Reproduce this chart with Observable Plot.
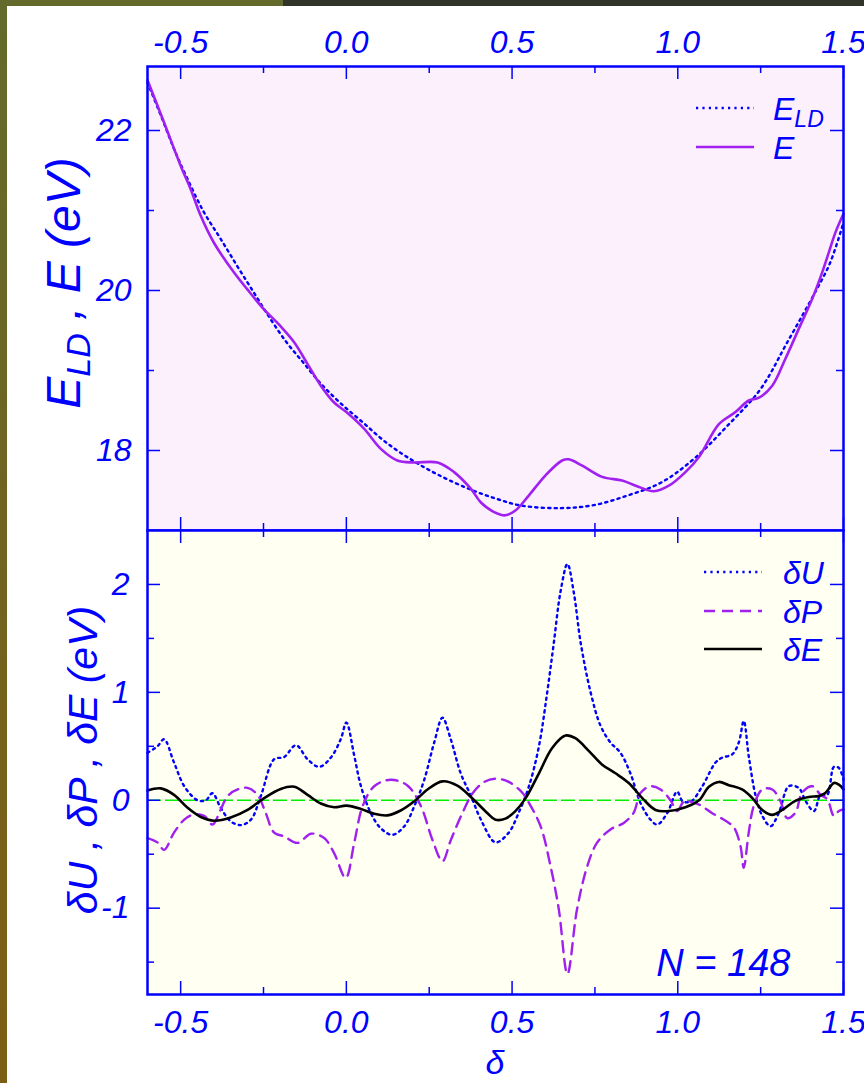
<!DOCTYPE html>
<html><head><meta charset="utf-8">
<script src="https://cdn.jsdelivr.net/npm/d3@7"></script>
<script src="https://cdn.jsdelivr.net/npm/@observablehq/plot@0.6"></script>
<style>
html,body{margin:0;padding:0;background:#fff;width:864px;height:1083px;overflow:hidden;}
#wrap{position:relative;width:864px;height:1083px;background:#fff;}
#barL{position:absolute;left:0;top:0;width:283px;height:6px;background:#636a2b;}
#barR{position:absolute;left:283px;top:0;width:581px;height:6px;background:#313428;}
#strip{position:absolute;left:0;top:0;width:7px;height:1083px;background:linear-gradient(#636a2b,#7d5e14);}
#topPanel{position:absolute;left:0;top:0;}
#botPanel{position:absolute;left:0;top:530px;}
svg{overflow:visible;}
</style></head><body>
<div id="wrap"><div id="topPanel"></div><div id="botPanel"></div><div id="barL"></div><div id="barR"></div><div id="strip"></div></div>
<script>
// ---------- data ----------
const xTicksMajor = [-0.5, 0.0, 0.5, 1.0, 1.5];
const xTicksMinor = [-0.25, 0.25, 0.75, 1.25];
const yTopMajor = [18, 20, 22];
const yTopMinor = [19, 21];
const yBotMajor = [-1, 0, 1, 2];
const yBotMinor = [-1.5, -0.5, 0.5, 1.5];

const xELD = [-0.6, -0.56, -0.52, -0.48, -0.43, -0.38, -0.33, -0.28, -0.23, -0.18, -0.13, -0.08, -0.02, 0.05, 0.12, 0.2, 0.28, 0.37, 0.45, 0.53, 0.65, 0.75, 0.85, 0.95, 1.05, 1.15, 1.25, 1.33, 1.42, 1.46, 1.5];
const yELD = [22.6, 22.19, 21.77, 21.40, 20.98, 20.65, 20.31, 19.98, 19.65, 19.35, 19.10, 18.85, 18.60, 18.35, 18.10, 17.875, 17.69, 17.52, 17.40, 17.31, 17.28, 17.32, 17.44, 17.60, 17.90, 18.31, 18.77, 19.35, 20.02, 20.35, 20.85];

const xE = [-0.6, -0.55, -0.5, -0.47, -0.44, -0.4, -0.34, -0.3, -0.25, -0.2, -0.157, -0.117, -0.077, -0.037, 0.0, 0.054, 0.104, 0.154, 0.205, 0.275, 0.325, 0.376, 0.406, 0.446, 0.48, 0.51, 0.551, 0.601, 0.651, 0.671, 0.712, 0.772, 0.832, 0.873, 0.928, 0.973, 1.023, 1.064, 1.124, 1.174, 1.214, 1.245, 1.285, 1.325, 1.365, 1.406, 1.436, 1.456, 1.476, 1.5];
const yE = [22.63, 22.10, 21.56, 21.27, 20.94, 20.60, 20.23, 20.02, 19.77, 19.56, 19.35, 19.08, 18.81, 18.60, 18.48, 18.27, 18.02, 17.875, 17.85, 17.85, 17.73, 17.52, 17.35, 17.23, 17.19, 17.25, 17.44, 17.69, 17.875, 17.89, 17.81, 17.67, 17.625, 17.56, 17.49, 17.56, 17.73, 17.92, 18.33, 18.48, 18.625, 18.66, 18.81, 19.15, 19.52, 19.90, 20.23, 20.48, 20.73, 20.96];

const xdE = [-0.6, -0.56, -0.52, -0.479, -0.439, -0.399, -0.349, -0.298, -0.248, -0.198, -0.157, -0.117, -0.077, -0.037, 0.0, 0.044, 0.084, 0.124, 0.164, 0.205, 0.245, 0.29, 0.335, 0.386, 0.426, 0.45, 0.48, 0.51, 0.541, 0.581, 0.621, 0.661, 0.691, 0.732, 0.772, 0.812, 0.852, 0.893, 0.933, 0.973, 1.023, 1.064, 1.094, 1.124, 1.154, 1.194, 1.225, 1.255, 1.285, 1.315, 1.355, 1.395, 1.426, 1.446, 1.471, 1.486, 1.5];
const ydE = [0.09, 0.11, 0.05, -0.07, -0.155, -0.19, -0.16, -0.09, 0.02, 0.105, 0.125, 0.05, -0.03, -0.065, -0.05, -0.08, -0.125, -0.14, -0.095, -0.01, 0.10, 0.175, 0.135, 0.0, -0.12, -0.18, -0.17, -0.10, 0.02, 0.25, 0.485, 0.60, 0.575, 0.455, 0.33, 0.25, 0.16, 0.02, -0.09, -0.10, -0.065, 0.0, 0.125, 0.17, 0.14, 0.10, 0.02, -0.09, -0.135, -0.09, -0.005, 0.03, 0.04, 0.07, 0.16, 0.145, 0.10];

const xdU = [-0.6, -0.57, -0.55, -0.52, -0.489, -0.449, -0.424, -0.404, -0.379, -0.349, -0.318, -0.288, -0.258, -0.218, -0.188, -0.152, -0.117, -0.082, -0.047, -0.017, 0.0, 0.024, 0.044, 0.074, 0.104, 0.139, 0.175, 0.205, 0.235, 0.265, 0.29, 0.315, 0.345, 0.376, 0.406, 0.45, 0.49, 0.52, 0.551, 0.581, 0.606, 0.626, 0.646, 0.667, 0.686, 0.707, 0.737, 0.767, 0.797, 0.827, 0.857, 0.888, 0.918, 0.938, 0.968, 0.998, 1.015, 1.04, 1.074, 1.114, 1.134, 1.164, 1.184, 1.199, 1.214, 1.235, 1.255, 1.28, 1.305, 1.335, 1.365, 1.386, 1.411, 1.431, 1.451, 1.471, 1.486, 1.5];
const ydU = [0.44, 0.50, 0.565, 0.35, 0.13, 0.0, 0.0, 0.065, -0.07, -0.195, -0.23, -0.18, 0.04, 0.38, 0.40, 0.51, 0.38, 0.31, 0.395, 0.565, 0.72, 0.41, 0.13, -0.12, -0.26, -0.32, -0.24, -0.055, 0.19, 0.535, 0.765, 0.565, 0.25, 0.04, -0.18, -0.39, -0.30, -0.115, 0.13, 0.50, 1.0, 1.46, 1.93, 2.19, 1.93, 1.46, 1.0, 0.69, 0.535, 0.44, 0.25, -0.03, -0.18, -0.225, -0.12, 0.08, -0.01, -0.01, 0.13, 0.35, 0.395, 0.425, 0.535, 0.735, 0.41, 0.04, -0.145, -0.24, -0.115, 0.13, 0.115, -0.01, -0.10, 0.05, 0.05, 0.31, 0.30, 0.19];

const xdP = [-0.6, -0.57, -0.55, -0.52, -0.489, -0.459, -0.429, -0.404, -0.379, -0.358, -0.328, -0.298, -0.268, -0.243, -0.218, -0.188, -0.147, -0.107, -0.067, -0.037, -0.002, 0.024, 0.049, 0.084, 0.134, 0.185, 0.225, 0.26, 0.29, 0.315, 0.35, 0.381, 0.416, 0.45, 0.49, 0.531, 0.55, 0.586, 0.616, 0.641, 0.667, 0.696, 0.727, 0.757, 0.797, 0.837, 0.867, 0.888, 0.918, 0.948, 0.978, 0.998, 1.02, 1.064, 1.104, 1.144, 1.169, 1.189, 1.199, 1.214, 1.229, 1.255, 1.285, 1.31, 1.33, 1.355, 1.375, 1.406, 1.431, 1.451, 1.471, 1.486, 1.5];
const ydP = [-0.35, -0.39, -0.46, -0.30, -0.18, -0.13, -0.145, -0.225, -0.085, 0.04, 0.10, 0.115, 0.05, -0.12, -0.30, -0.335, -0.395, -0.31, -0.35, -0.49, -0.72, -0.39, -0.055, 0.13, 0.19, 0.135, -0.055, -0.37, -0.565, -0.37, -0.12, 0.065, 0.17, 0.20, 0.17, 0.07, -0.02, -0.24, -0.61, -1.01, -1.61, -1.01, -0.61, -0.39, -0.27, -0.21, -0.115, 0.07, 0.13, 0.10, 0.0, -0.10, -0.01, -0.04, -0.12, -0.19, -0.25, -0.42, -0.625, -0.30, -0.055, 0.10, 0.10, -0.01, -0.165, -0.115, 0.07, 0.13, 0.05, 0.01, -0.145, -0.10, -0.085];

const annotation = "N = 148";
const topLegend = [{label: "E", sub: "LD", key: "ELD"}, {label: "E", sub: "", key: "E"}];
const botLegend = [{label: "δU", sub: "", key: "dU"}, {label: "δP", sub: "", key: "dP"}, {label: "δE", sub: "", key: "dE"}];

// ---------- styles ----------
const BLUE = "#0000ff", PURPLE = "#a020f0", GREEN = "#00ee00";
const FONT = "'Liberation Sans', Arial, sans-serif";
const styles = {
  ELD: {stroke: BLUE, strokeWidth: 2.4, strokeDasharray: "2.2,4.2"},
  E: {stroke: PURPLE, strokeWidth: 2.6},
  dU: {stroke: BLUE, strokeWidth: 2.4, strokeDasharray: "2.2,4.2"},
  dP: {stroke: PURPLE, strokeWidth: 2.4, strokeDasharray: "11,7"},
  dE: {stroke: "#000", strokeWidth: 2.6}
};
const W = 864, ML = 147, MR = 21, FH = 464, FW = W - ML - MR;
const fmt1 = d => d.toFixed(1);
const fmt0 = d => String(d);

const zip = (xs, ys) => xs.map((x, i) => ({x, y: ys[i]}));

function tickMarks(yMajor, yMinor) {
  const t = {stroke: BLUE, strokeWidth: 1.5};
  return [
    Plot.tickX(xTicksMajor, {x: d => d, ...t, insetBottom: FH - 13}),
    Plot.tickX(xTicksMinor, {x: d => d, ...t, insetBottom: FH - 7}),
    Plot.tickX(xTicksMajor, {x: d => d, ...t, insetTop: FH - 13}),
    Plot.tickX(xTicksMinor, {x: d => d, ...t, insetTop: FH - 7}),
    Plot.tickY(yMajor, {y: d => d, ...t, insetRight: FW - 13}),
    Plot.tickY(yMinor, {y: d => d, ...t, insetRight: FW - 7}),
    Plot.tickY(yMajor, {y: d => d, ...t, insetLeft: FW - 13}),
    Plot.tickY(yMinor, {y: d => d, ...t, insetLeft: FW - 7})
  ];
}

function addLegend(svg, items, x0, x1, xt, ys, fs) {
  const g = d3.select(svg).append("g").attr("text-anchor", "start");
  items.forEach((it, i) => {
    const s = styles[it.key];
    g.append("line").attr("x1", x0).attr("x2", x1).attr("y1", ys[i]).attr("y2", ys[i])
      .attr("stroke", s.stroke).attr("stroke-width", s.strokeWidth)
      .attr("stroke-dasharray", s.strokeDasharray || null);
    const t = g.append("text").attr("x", xt).attr("y", ys[i] + fs * 0.36).attr("text-anchor", "start")
      .attr("font-family", FONT).attr("font-style", "italic").attr("font-size", fs).attr("fill", BLUE);
    t.append("tspan").text(it.label);
    if (it.sub) t.append("tspan").attr("font-size", fs * 0.72).attr("dy", fs * 0.22).text(it.sub);
  });
}

// ---------- top panel ----------
const topPlot = Plot.plot({
  width: W, height: 530, marginTop: 66, marginBottom: 0, marginLeft: ML, marginRight: MR,
  style: {fontFamily: FONT, fontStyle: "italic", fontSize: "32px", color: BLUE, background: "transparent", overflow: "visible"},
  x: {domain: [-0.6, 1.5]},
  y: {domain: [17, 22.8]},
  marks: [
    Plot.frame({fill: "#fdf0fd", stroke: null}),
    Plot.axisX({anchor: "top", ticks: xTicksMajor, tickSize: 0, tickPadding: 14, tickFormat: fmt1, label: null}),
    Plot.axisY({anchor: "left", ticks: yTopMajor, tickSize: 0, tickPadding: 16, tickFormat: fmt0, label: null}),
    Plot.line(zip(xELD, yELD), {x: "x", y: "y", curve: "catmull-rom", ...styles.ELD}),
    Plot.line(zip(xE, yE), {x: "x", y: "y", curve: "catmull-rom", ...styles.E}),
    ...tickMarks(yTopMajor, yTopMinor),
    Plot.frame({stroke: BLUE, strokeWidth: 2.5})
  ]
});
document.getElementById("topPanel").appendChild(topPlot);
{
  const t = d3.select(topPlot).append("text")
    .attr("transform", "translate(80,283) rotate(-90)").attr("text-anchor", "middle")
    .attr("font-family", FONT).attr("font-style", "italic").attr("font-size", 48).attr("fill", BLUE);
  t.append("tspan").text("E");
  t.append("tspan").attr("font-size", 34).attr("dy", 10).text("LD");
  t.append("tspan").attr("dy", -10).text(" , E (eV)");
}
addLegend(topPlot, topLegend, 696, 754, 773, [108, 147], 32);

// ---------- bottom panel ----------
const botPlot = Plot.plot({
  width: W, height: 553, marginTop: 0, marginBottom: 89, marginLeft: ML, marginRight: MR,
  style: {fontFamily: FONT, fontStyle: "italic", fontSize: "32px", color: BLUE, background: "transparent", overflow: "visible"},
  x: {domain: [-0.6, 1.5]},
  y: {domain: [-1.8, 2.5]},
  marks: [
    Plot.frame({fill: "#fffff2", stroke: null}),
    Plot.axisX({anchor: "bottom", ticks: xTicksMajor, tickSize: 0, tickPadding: 16, tickFormat: fmt1, label: null}),
    Plot.axisY({anchor: "left", ticks: yBotMajor, tickSize: 0, tickPadding: 18, tickFormat: fmt0, label: null}),
    Plot.ruleY([0], {stroke: GREEN, strokeWidth: 1.6, strokeDasharray: "14,4"}),
    Plot.line(zip(xdU, ydU), {x: "x", y: "y", curve: "catmull-rom", ...styles.dU}),
    Plot.line(zip(xdP, ydP), {x: "x", y: "y", curve: "catmull-rom", ...styles.dP}),
    Plot.line(zip(xdE, ydE), {x: "x", y: "y", curve: "catmull-rom", ...styles.dE}),
    Plot.text([annotation], {text: d => d, frameAnchor: "bottom-right", textAnchor: "end", lineAnchor: "bottom", dx: -53, dy: -19, fontSize: 38, fill: BLUE}),
    ...tickMarks(yBotMajor, yBotMinor),
    Plot.frame({stroke: BLUE, strokeWidth: 2.5})
  ]
});
document.getElementById("botPanel").appendChild(botPlot);
d3.select(botPlot).append("text")
  .attr("transform", "translate(97,230) rotate(-90)").attr("text-anchor", "middle")
  .attr("font-family", FONT).attr("font-style", "italic").attr("font-size", 41).attr("fill", BLUE)
  .text("δU , δP , δE (eV)");
d3.select(botPlot).append("text")
  .attr("x", ML + FW / 2).attr("y", 544).attr("text-anchor", "middle")
  .attr("font-family", FONT).attr("font-style", "italic").attr("font-size", 34).attr("fill", BLUE)
  .text("δ");
addLegend(botPlot, botLegend, 704, 762, 783, [42, 81, 119], 32);
</script>
</body></html>
